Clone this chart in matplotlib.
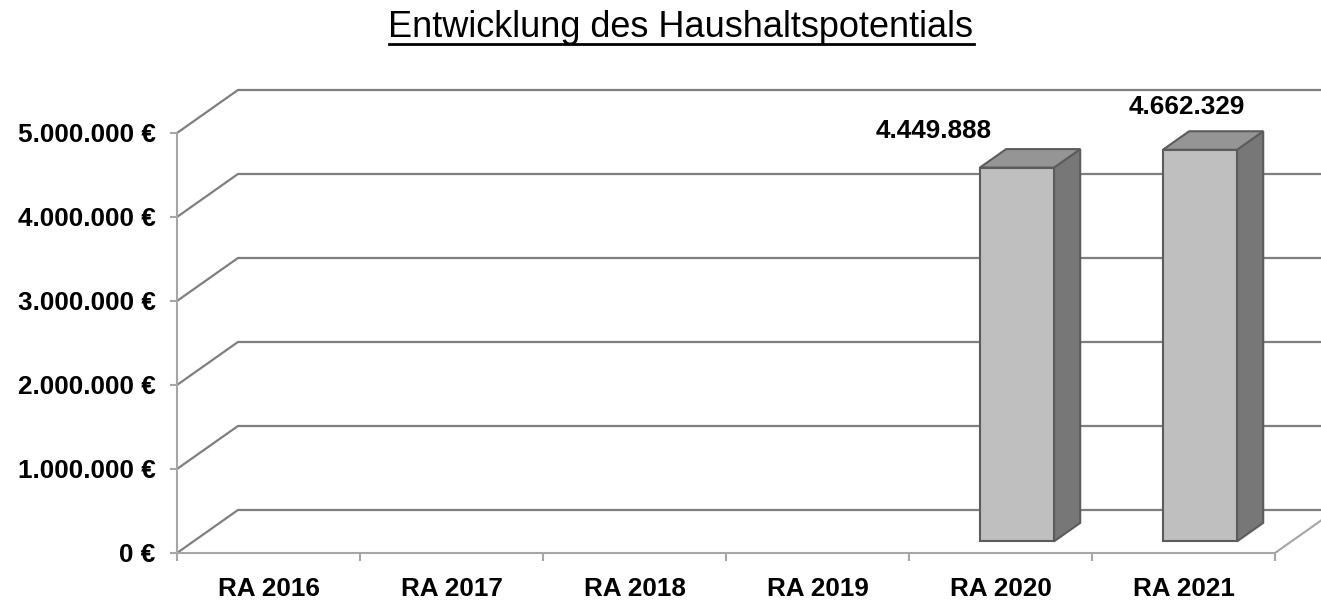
import matplotlib
matplotlib.use('Agg')
import matplotlib.pyplot as plt
from matplotlib.patches import Polygon, Rectangle
from matplotlib.lines import Line2D
from matplotlib.ticker import FuncFormatter

plt.rcParams['font.family'] = ['Liberation Sans', 'DejaVu Sans']

# ============================================================
# Daten
# ============================================================
categories = ["RA 2016", "RA 2017", "RA 2018", "RA 2019", "RA 2020", "RA 2021"]
values = [None, None, None, None, 4449888, 4662329]
label_texts = ["", "", "", "", "4.449.888", "4.662.329"]
y_ticks = [0, 1000000, 2000000, 3000000, 4000000, 5000000]

title = "Entwicklung des Haushaltspotentials"

# ============================================================
# 3D-Geometrie (Pseudo-3D wie in Excel)
# ============================================================
DX, DY = 0.333, 512000      # Tiefe der Wand / des Bodens
F0, F1 = 0.27, 0.70         # Vorder-/Rückseite der Säulen (Anteil der Tiefe)
BAR_W = 0.405
GRID_C = '#7f7f7f'
AXIS_C = '#a6a6a6'
FACE_C, TOP_C, SIDE_C, EDGE_C = '#bfbfbf', '#959595', '#777777', '#5c5c5c'
FS = 18.8
# Position der Datenbeschriftungen relativ zur Kategoriemitte / zum Wert
label_dx = [0, 0, 0, 0, -0.363, 0.019]
label_dy = [0, 0, 0, 0, 574000, 647000]

fig = plt.figure(figsize=(13.21, 6.01), dpi=100)
ax = fig.add_axes([177 / 1321, 48 / 601, 1098 / 1321, 420 / 601])
ax.set_xlim(0, len(categories))
ax.set_ylim(0, 5000000)

# Gitternetz (Seitenwand + Rückwand)
for v in y_ticks:
    ax.add_line(Line2D([0, DX, len(categories) + DX], [v, v + DY, v + DY],
                       color=GRID_C, lw=1.6, clip_on=False, zorder=1))
# rechte Bodenkante
ax.add_line(Line2D([len(categories), len(categories) + DX], [0, DY],
                   color=AXIS_C, lw=1.5, clip_on=False, zorder=1))

# Säulen
for i, v in enumerate(values):
    if v is None:
        continue
    x0 = i + 0.5 - BAR_W / 2 + F0 * DX
    y0 = F0 * DY
    ddx = (F1 - F0) * DX
    ddy = (F1 - F0) * DY
    front = Rectangle((x0, y0), BAR_W, v, fc=FACE_C, ec=EDGE_C, lw=1.5,
                      clip_on=False, zorder=3)
    top = Polygon([(x0, y0 + v), (x0 + BAR_W, y0 + v),
                   (x0 + BAR_W + ddx, y0 + v + ddy), (x0 + ddx, y0 + v + ddy)],
                  closed=True, fc=TOP_C, ec=EDGE_C, lw=1.5, clip_on=False, zorder=3)
    side = Polygon([(x0 + BAR_W, y0), (x0 + BAR_W + ddx, y0 + ddy),
                    (x0 + BAR_W + ddx, y0 + v + ddy), (x0 + BAR_W, y0 + v)],
                   closed=True, fc=SIDE_C, ec=EDGE_C, lw=1.5, clip_on=False, zorder=3)
    for p in (side, top, front):
        ax.add_patch(p)
    ax.text(i + 0.5 + label_dx[i], v + label_dy[i], label_texts[i],
            ha='center', va='center', fontsize=FS, fontweight='bold', zorder=4)

# Achsen
for s in ('top', 'right'):
    ax.spines[s].set_visible(False)
for s in ('left', 'bottom'):
    ax.spines[s].set_color(AXIS_C)
    ax.spines[s].set_linewidth(1.5)
    ax.spines[s].set_zorder(2)

ax.set_yticks(y_ticks)
ax.yaxis.set_major_formatter(FuncFormatter(
    lambda v, p: '{:,.0f} €'.format(v).replace(',', '.')))
ax.tick_params(axis='y', length=5, width=1.5, color=AXIS_C, pad=10.5,
               labelsize=FS)
for lbl in ax.get_yticklabels():
    lbl.set_fontweight('bold')

ax.set_xticks(range(len(categories) + 1))
ax.set_xticklabels([])
ax.set_xticks([i + 0.5 for i in range(len(categories))], minor=True)
ax.set_xticklabels(categories, minor=True, fontsize=FS, fontweight='bold')
ax.tick_params(axis='x', which='major', length=6, width=1.5, color=AXIS_C)
ax.tick_params(axis='x', which='minor', length=0, pad=17)

# Titel (unterstrichen)
t = fig.text(681 / 1321, 1 - 37 / 601, title, ha='center', va='baseline',
             fontsize=26)
fig.canvas.draw()
bb = t.get_window_extent(fig.canvas.get_renderer())
uy = (601 - 44) / 601
fig.add_artist(Line2D([bb.x0 / 1321, bb.x1 / 1321], [uy, uy],
                      color='black', lw=2))

fig.savefig("out.png", dpi=100)
